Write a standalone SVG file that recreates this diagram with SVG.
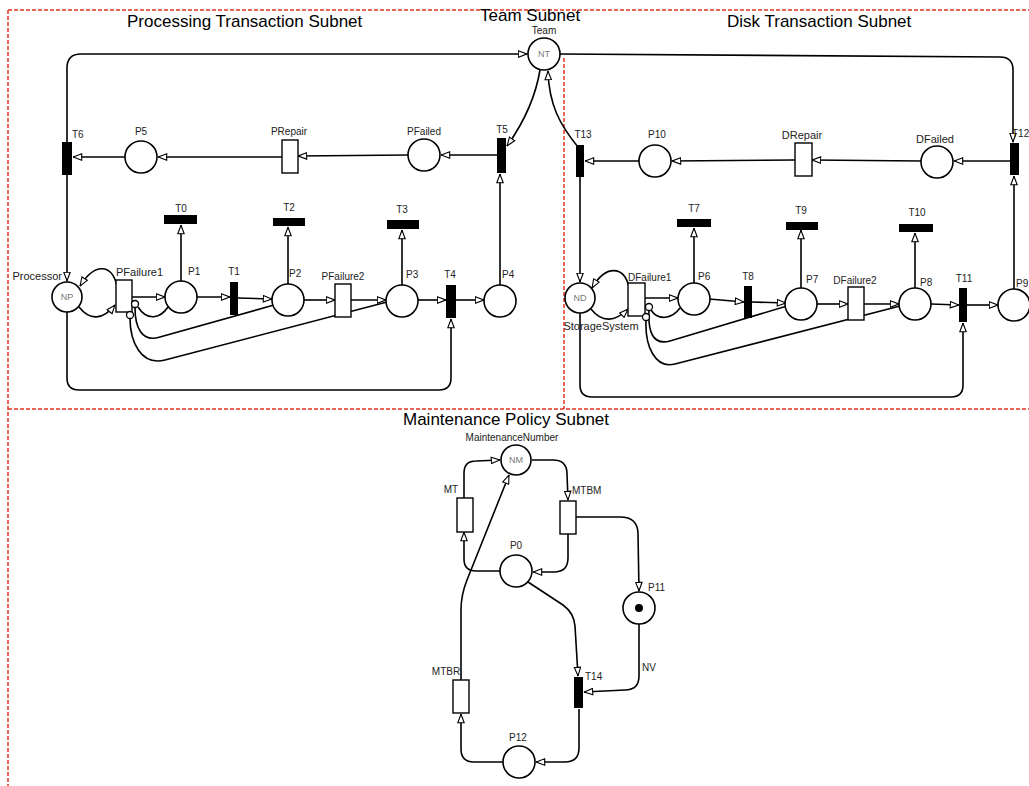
<svg xmlns="http://www.w3.org/2000/svg" width="1029" height="786" viewBox="0 0 1029 786">
<style>
.c{fill:#fff;stroke:#000;stroke-width:1.6}
.b{fill:#000}
.r{fill:#fff;stroke:#000;stroke-width:1.4}
.a{fill:none;stroke:#000;stroke-width:1.6;marker-end:url(#ar)}
.n{fill:none;stroke:#000;stroke-width:1.6}
.ic{fill:#fff;stroke:#000;stroke-width:1.3}
.l{font-family:"Liberation Sans",Arial,sans-serif;font-size:10px;fill:#222}
.m{text-anchor:middle}
.g{font-family:"Liberation Sans",Arial,sans-serif;font-size:9px;fill:#777;text-anchor:middle}
.big{font-size:11px}
.ttl{font-family:"Liberation Sans",Arial,sans-serif;font-size:17px;fill:#000}
.red{stroke:#e53222;stroke-width:1.5;stroke-dasharray:4 2;fill:none}
</style>
<defs>
<marker id="ar" viewBox="0 0 10 8" refX="9.5" refY="4" markerWidth="10" markerHeight="8" markerUnits="userSpaceOnUse" orient="auto">
<path d="M0.8,0.8 L9.3,4 L0.8,7.2 z" fill="#fff" stroke="#000" stroke-width="1.1"/>
</marker>
</defs>
<rect width="1029" height="786" fill="#fff"/>
<g id="frames">
<path class="red" d="M8,10 L1029,10"/>
<path class="red" d="M8,10 L8,786"/>
<path class="red" d="M564,58 L564,409"/>
<path class="red" d="M8,409 L1029,409"/>
</g>
<g id="titles">
<text class="ttl" x="127" y="27">Processing Transaction Subnet</text>
<text class="ttl" x="480" y="21">Team Subnet</text>
<text class="ttl" x="727" y="27">Disk Transaction Subnet</text>
<text class="ttl" x="403" y="425">Maintenance Policy Subnet</text>
</g>
<g id="connectors">
<path class="a" d="M67,142 L67,68 Q67,54 81,54 L527,54"/>
<path class="a" d="M540,70 C535,100 522,125 507,146"/>
<path class="a" d="M578,147 C560,125 549,105 548,71"/>
<path class="a" d="M497,155 L441,155"/>
<path class="a" d="M408,155 L298,156"/>
<path class="a" d="M282,157 L158,157"/>
<path class="a" d="M125,157 L73,157"/>
<path class="a" d="M67,175 L67,281"/>
<path class="a" d="M67,312 L67,378 Q67,390 79,390 L439,390 Q451,390 451,378 L451,319"/>
<path class="a" d="M117,286 C112,264 95,262 80,286"/>
<path class="a" d="M79,307 C90,321 103,320 115,305"/>
<path class="a" d="M132,297 L165,297"/>
<path class="a" d="M181,282 L181,225"/>
<path class="a" d="M197,297 L230,297"/>
<path class="a" d="M238,298 L272,299"/>
<path class="a" d="M288,285 L288,227"/>
<path class="a" d="M304,300 L335,300"/>
<path class="a" d="M351,300 L386,300"/>
<path class="a" d="M402,285 L402,230"/>
<path class="a" d="M418,300 L446,300"/>
<path class="a" d="M456,300 L484,300"/>
<path class="a" d="M500,285 L500,174"/>
<path class="n" d="M168,307 C160,319 147,321 138,307"/>
<path class="n" d="M274,305 L160,337 C141,343 135,326 135,308"/>
<path class="n" d="M387,302 L165,360 C141,366 130,342 130,318"/>
<path class="a" d="M560,54 L1000,57 Q1013,57 1013,70 L1013,142"/>
<path class="a" d="M1010,161 L954,161"/>
<path class="a" d="M921,161 L812,160"/>
<path class="a" d="M795,160 L672,161"/>
<path class="a" d="M639,161 L585,161"/>
<path class="a" d="M580,177 L580,282"/>
<path class="a" d="M580,313 L580,385 Q580,397 592,397 L951,397 Q963,397 963,385 L963,323"/>
<path class="a" d="M629,287 C624,266 606,264 592,288"/>
<path class="a" d="M591,309 C602,323 615,322 628,309"/>
<path class="a" d="M645,298 L678,298"/>
<path class="a" d="M694,283 L694,228"/>
<path class="a" d="M709,299 L744,302"/>
<path class="a" d="M752,302 L786,303"/>
<path class="a" d="M801,289 L801,230"/>
<path class="a" d="M817,304 L848,304"/>
<path class="a" d="M864,304 L899,304"/>
<path class="a" d="M915,288 L915,233"/>
<path class="a" d="M931,304 L959,305"/>
<path class="a" d="M967,305 L998,305"/>
<path class="a" d="M1014,289 L1014,176"/>
<path class="n" d="M680,308 C672,319 658,321 651,310"/>
<path class="n" d="M787,306 L670,341 C652,346 648,330 649,311"/>
<path class="n" d="M900,306 L675,364 C655,369 645,346 646,321"/>
<path class="a" d="M464,499 L464,473 Q464,461 476,461 L500,460"/>
<path class="a" d="M532,460 L553,460 Q567,460 567,474 L568,500"/>
<path class="a" d="M568,534 L568,558 Q568,572 554,572 L533,572"/>
<path class="a" d="M576,517 L620,517 Q638,517 638,534 L639,591"/>
<path class="a" d="M500,571 L476,571 Q464,571 464,559 L464,532"/>
<path class="a" d="M461,680 L461,610 Q461,595 467,580 L509,475"/>
<path class="a" d="M528,582 L563,605 Q574,613 575,626 L578,676"/>
<path class="a" d="M639,624 L639,676 Q639,690 625,690 L584,692"/>
<path class="a" d="M579,709 L579,748 Q579,762 565,762 L536,762"/>
<path class="a" d="M503,762 L474,762 Q461,762 461,749 L461,714"/>
</g>
<g id="NT"><circle class="c" cx="544" cy="54" r="16"/><text class="g" x="544" y="57">NT</text><text class="l m" x="544" y="34" font-size="9">Team</text></g>
<g id="T6"><rect class="b" x="62" y="142" width="10" height="33"/><text class="l" x="72" y="138">T6</text></g>
<g id="P5"><circle class="c" cx="141" cy="157" r="16"/><text class="l m" x="141" y="135">P5</text></g>
<g id="PRepair"><rect class="r" x="282" y="140" width="16" height="33"/><text class="l m" x="289" y="135">PRepair</text></g>
<g id="PFailed"><circle class="c" cx="424" cy="155" r="16"/><text class="l m" x="424" y="135">PFailed</text></g>
<g id="T5"><rect class="b" x="497" y="138" width="9" height="35"/><text class="l m" x="502" y="133">T5</text></g>
<g id="NP"><circle class="c" cx="67" cy="297" r="15"/><text class="g" x="67" y="300">NP</text><text class="l big" x="62" y="280" text-anchor="end">Processor</text></g>
<g id="PFailure1"><rect class="r" x="116" y="280" width="16" height="32"/><text class="l big" x="116" y="276">PFailure1</text></g>
<g id="P1"><circle class="c" cx="181" cy="297" r="16"/><text class="l" x="188" y="275">P1</text></g>
<g id="T0"><rect class="b" x="164" y="215" width="33" height="9"/><text class="l m" x="181" y="212">T0</text></g>
<g id="T1"><rect class="b" x="230" y="282" width="8" height="33"/><text class="l m" x="234" y="275">T1</text></g>
<g id="P2"><circle class="c" cx="288" cy="300" r="16"/><text class="l" x="289" y="277">P2</text></g>
<g id="T2"><rect class="b" x="273" y="218" width="32" height="8"/><text class="l m" x="289" y="211">T2</text></g>
<g id="PFailure2"><rect class="r" x="335" y="284" width="16" height="33"/><text class="l m" x="343" y="280" font-size="11.5">PFailure2</text></g>
<g id="P3"><circle class="c" cx="402" cy="301" r="16"/><text class="l" x="406" y="278">P3</text></g>
<g id="T3"><rect class="b" x="387" y="220" width="32" height="9"/><text class="l m" x="402" y="213">T3</text></g>
<g id="T4"><rect class="b" x="446" y="285" width="10" height="33"/><text class="l m" x="450" y="278">T4</text></g>
<g id="P4"><circle class="c" cx="500" cy="301" r="16"/><text class="l" x="502" y="278">P4</text></g>
<g id="inhibitors-left"><circle class="ic" cx="135" cy="304" r="3.5"/><circle class="ic" cx="130" cy="315" r="3.5"/></g>
<g id="T13"><rect class="b" x="576" y="145" width="8" height="32"/><text class="l m" x="583" y="138">T13</text></g>
<g id="P10"><circle class="c" cx="655" cy="161" r="16"/><text class="l m" x="657" y="138">P10</text></g>
<g id="DRepair"><rect class="r" x="795" y="143" width="17" height="33"/><text class="l m big" x="802" y="139">DRepair</text></g>
<g id="DFailed"><circle class="c" cx="937" cy="162" r="16"/><text class="l m big" x="935" y="143">DFailed</text></g>
<g id="T12"><rect class="b" x="1010" y="143" width="9" height="32"/><text class="l" x="1012" y="137" font-size="9">T12</text></g>
<g id="ND"><circle class="c" cx="580" cy="298" r="15"/><text class="g" x="580" y="301">ND</text><text class="l m big" x="601" y="330">StorageSystem</text></g>
<g id="DFailure1"><rect class="r" x="628" y="283" width="17" height="33"/><text class="l" x="628" y="281" font-size="11.5">DFailure1</text></g>
<g id="P6"><circle class="c" cx="694" cy="299" r="16"/><text class="l" x="698" y="280">P6</text></g>
<g id="T7"><rect class="b" x="677" y="219" width="34" height="8"/><text class="l m" x="694" y="212">T7</text></g>
<g id="T8"><rect class="b" x="744" y="286" width="8" height="32"/><text class="l m" x="748" y="280">T8</text></g>
<g id="P7"><circle class="c" cx="801" cy="304" r="16"/><text class="l" x="806" y="283">P7</text></g>
<g id="T9"><rect class="b" x="786" y="222" width="32" height="8"/><text class="l m" x="801" y="214">T9</text></g>
<g id="DFailure2"><rect class="r" x="848" y="287" width="16" height="33"/><text class="l m" x="855" y="284" font-size="11.5">DFailure2</text></g>
<g id="P8"><circle class="c" cx="915" cy="304" r="16"/><text class="l" x="920" y="286">P8</text></g>
<g id="T10"><rect class="b" x="899" y="224" width="34" height="8"/><text class="l m" x="917" y="216">T10</text></g>
<g id="T11"><rect class="b" x="959" y="288" width="8" height="34"/><text class="l m" x="964" y="282">T11</text></g>
<g id="P9"><circle class="c" cx="1014" cy="305" r="16"/><text class="l" x="1016" y="287" font-size="9">P9</text></g>
<g id="inhibitors-right"><circle class="ic" cx="649" cy="307" r="3.5"/><circle class="ic" cx="646" cy="317" r="3.5"/></g>
<g id="NM"><circle class="c" cx="516" cy="460" r="15"/><text class="g" x="516" y="463">NM</text><text class="l m" x="512" y="441" font-size="9.5">MaintenanceNumber</text></g>
<g id="MT"><rect class="r" x="457" y="498" width="16" height="34"/><text class="l m" x="451" y="493">MT</text></g>
<g id="MTBM"><rect class="r" x="560" y="501" width="16" height="33"/><text class="l" x="572" y="494">MTBM</text></g>
<g id="P0"><circle class="c" cx="516" cy="571" r="16"/><text class="l m" x="516" y="549">P0</text></g>
<g id="P11"><circle class="c" cx="639" cy="608" r="16"/><circle class="b" cx="639" cy="608" r="4"/><text class="l" x="648" y="591">P11</text></g>
<g id="T14"><rect class="b" x="574" y="677" width="9" height="31"/><text class="l" x="585" y="680">T14</text></g>
<g id="NV-label"><text class="l" x="642" y="671">NV</text></g>
<g id="MTBR"><rect class="r" x="453" y="680" width="16" height="33"/><text class="l m" x="446" y="675">MTBR</text></g>
<g id="P12"><circle class="c" cx="519" cy="762" r="16"/><text class="l m" x="518" y="741">P12</text></g>
</svg>
